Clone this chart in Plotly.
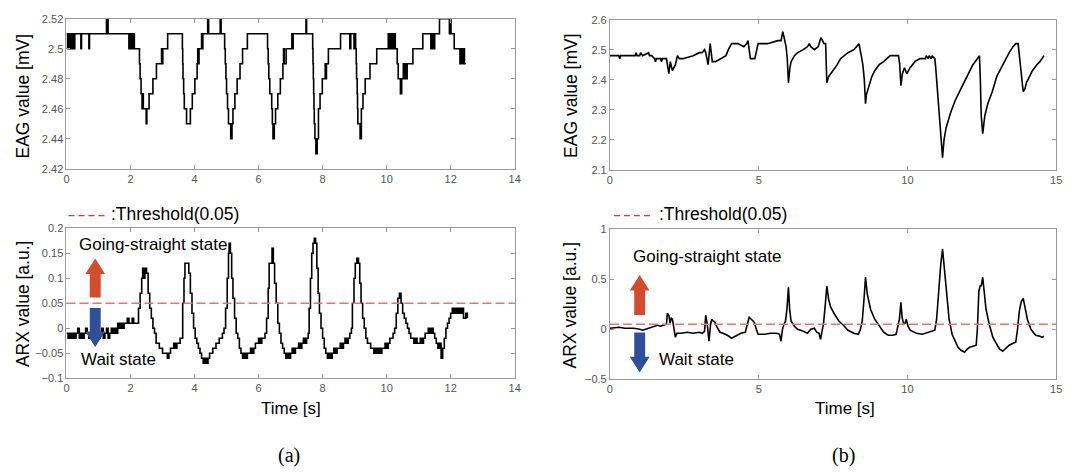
import plotly.graph_objects as go

W, H = 1087, 472

# ---------------- Data ----------------
# (a) EAG value [mV], step signal
eag_a_t = [0.00, 0.03, 0.06, 0.10, 0.13, 0.17, 0.20, 0.24, 0.26, 0.45, 0.47, 0.70, 0.72, 1.25, 1.30,
           1.95, 1.98, 2.00, 2.03, 2.06, 2.09, 2.12, 2.28, 2.30, 2.33, 2.36, 2.38, 2.40, 2.49, 2.51, 2.58,
           2.70, 2.81, 2.97, 2.99, 3.01, 3.16,
           3.62, 3.63, 3.64, 3.66, 3.68, 3.75, 3.87, 3.93, 4.01, 4.08, 4.10, 4.12, 4.14, 4.22, 4.24, 4.26,
           4.28, 4.41, 4.44, 4.80, 4.83,
           4.94, 4.96, 4.98, 5.00, 5.03, 5.06, 5.13, 5.17, 5.20, 5.26, 5.33, 5.42, 5.50, 5.65,
           6.28, 6.30, 6.32, 6.35, 6.41, 6.43, 6.45, 6.49, 6.53, 6.60, 6.68, 6.76, 6.78, 6.80, 6.86, 7.04,
           7.06, 7.08, 7.48, 7.50,
           7.69, 7.70, 7.71, 7.72, 7.73, 7.74, 7.76, 7.79, 7.83, 7.87, 7.92, 7.99, 8.08, 8.10, 8.12, 8.18,
           8.56, 8.85, 8.88, 8.98, 9.00,
           9.03, 9.05, 9.06, 9.08, 9.09, 9.10, 9.17, 9.21, 9.26, 9.33, 9.48, 9.69,
           10.05, 10.08, 10.11, 10.14, 10.17, 10.22, 10.24, 10.27, 10.33, 10.36, 10.43, 10.47, 10.52,
           10.55, 10.58, 10.61, 10.64, 10.82, 11.13, 11.38, 11.40, 11.43, 11.45, 11.48, 11.50,
           11.65, 11.96, 11.99, 12.01, 12.11, 12.29, 12.32, 12.36, 12.39, 12.43, 12.47]
eag_a_v = [2.51, 2.50, 2.51, 2.50, 2.51, 2.50, 2.51, 2.50, 2.51, 2.50, 2.51, 2.50, 2.51, 2.52, 2.51,
           2.50, 2.51, 2.50, 2.51, 2.50, 2.51, 2.50, 2.49, 2.48, 2.47, 2.46, 2.47, 2.46, 2.45, 2.46, 2.47,
           2.48, 2.49, 2.50, 2.49, 2.50, 2.51,
           2.50, 2.49, 2.48, 2.47, 2.46, 2.45, 2.46, 2.47, 2.48, 2.49, 2.50, 2.49, 2.50, 2.51, 2.50, 2.51,
           2.51, 2.52, 2.51, 2.52, 2.51,
           2.50, 2.49, 2.48, 2.47, 2.46, 2.45, 2.44, 2.45, 2.46, 2.47, 2.48, 2.49, 2.50, 2.51,
           2.50, 2.49, 2.48, 2.47, 2.46, 2.45, 2.44, 2.45, 2.46, 2.47, 2.48, 2.49, 2.50, 2.49, 2.50, 2.51,
           2.50, 2.51, 2.52, 2.51,
           2.50, 2.49, 2.48, 2.47, 2.46, 2.45, 2.44, 2.43, 2.44, 2.46, 2.47, 2.48, 2.49, 2.48, 2.49, 2.50,
           2.51, 2.50, 2.51, 2.50, 2.51,
           2.50, 2.49, 2.48, 2.47, 2.46, 2.45, 2.44, 2.46, 2.47, 2.48, 2.49, 2.50,
           2.51, 2.50, 2.51, 2.50, 2.51, 2.50, 2.51, 2.50, 2.49, 2.48, 2.47, 2.48, 2.49,
           2.48, 2.49, 2.48, 2.49, 2.50, 2.51, 2.50, 2.51, 2.50, 2.51, 2.50, 2.51,
           2.52, 2.51, 2.52, 2.51, 2.50, 2.49, 2.50, 2.49, 2.50, 2.49, 2.49]

# (a) ARX value [a.u.]
arx_a_t = [0.00, 0.05, 0.10, 0.15, 0.20, 0.25, 0.30, 0.35, 0.40, 0.45, 0.50, 0.55, 0.60, 0.65, 0.70,
           0.75, 0.80, 0.85, 0.90, 0.95, 1.00, 1.05, 1.10, 1.15, 1.20, 1.25, 1.30, 1.35, 1.40, 1.45,
           1.50, 1.55, 1.60, 1.65, 1.70, 1.75, 1.80, 1.85, 1.90, 1.95, 2.00, 2.05, 2.10, 2.15, 2.20,
           2.25, 2.30, 2.35, 2.38, 2.42, 2.45, 2.50, 2.55, 2.60, 2.65, 2.70, 2.75, 2.80, 2.85, 2.90,
           2.95, 3.00, 3.05, 3.10, 3.15, 3.20, 3.25, 3.30, 3.35, 3.40, 3.45, 3.50, 3.55, 3.60, 3.63,
           3.67, 3.70, 3.78, 3.82, 3.87, 3.92, 3.97, 4.02, 4.07, 4.12, 4.17, 4.22, 4.27, 4.32, 4.37,
           4.42, 4.47, 4.52, 4.57, 4.62, 4.67, 4.72, 4.77, 4.82, 4.87, 4.92, 4.97, 5.02, 5.06, 5.08,
           5.12, 5.16, 5.20, 5.25, 5.30, 5.35, 5.40, 5.45, 5.50, 5.55, 5.60, 5.65, 5.70, 5.75, 5.80,
           5.85, 5.90, 5.95, 6.00, 6.05, 6.10, 6.15, 6.20, 6.25, 6.30, 6.33, 6.38, 6.42, 6.46, 6.50,
           6.55, 6.60, 6.65, 6.70, 6.75, 6.80, 6.85, 6.90, 6.95, 7.00, 7.05, 7.10, 7.15, 7.20, 7.25,
           7.30, 7.35, 7.40, 7.45, 7.50, 7.55, 7.58, 7.62, 7.66, 7.70, 7.74, 7.78, 7.82, 7.86, 7.90,
           7.95, 8.00, 8.05, 8.10, 8.15, 8.20, 8.25, 8.30, 8.35, 8.40, 8.45, 8.50, 8.55, 8.60, 8.65,
           8.70, 8.75, 8.80, 8.85, 8.90, 8.93, 8.98, 9.02, 9.07, 9.12, 9.16, 9.20, 9.25, 9.30, 9.35,
           9.40, 9.45, 9.50, 9.55, 9.60, 9.65, 9.70, 9.75, 9.80, 9.85, 9.90, 9.95, 10.00, 10.05, 10.10,
           10.15, 10.20, 10.25, 10.30, 10.35, 10.40, 10.45, 10.50, 10.55, 10.60, 10.65, 10.70, 10.75,
           10.80, 10.85, 10.90, 10.95, 11.00, 11.05, 11.10, 11.15, 11.20, 11.25, 11.30, 11.35, 11.40,
           11.45, 11.50, 11.55, 11.60, 11.65, 11.70, 11.75, 11.80, 11.85, 11.90, 11.95, 12.00, 12.05,
           12.10, 12.15, 12.20, 12.25, 12.30, 12.35, 12.40, 12.47, 12.52]
arx_a_v = [-0.01, -0.02, -0.01, -0.02, -0.01, -0.02, -0.01, 0.00, -0.02, -0.01, -0.02, -0.01, 0.00, -0.01, -0.02,
           -0.01, 0.00, -0.01, -0.02, -0.01, -0.02, -0.01, 0.00, -0.02, -0.01, 0.00, -0.02, -0.01, 0.00, -0.01,
           0.00, -0.01, 0.01, 0.00, 0.01, 0.00, 0.01, 0.01, 0.02, 0.01, 0.01, 0.02, 0.01, 0.01, 0.01,
           0.04, 0.07, 0.10, 0.12, 0.10, 0.12, 0.11, 0.07, 0.04, 0.02, 0.00, -0.01, -0.03, -0.03, -0.04,
           -0.04, -0.05, -0.05, -0.05, -0.06, -0.05, -0.04, -0.04, -0.03, -0.04, -0.03, -0.03, -0.02, -0.02, 0.05,
           0.10, 0.13, 0.13, 0.11, 0.07, 0.03, 0.00, -0.02, -0.03, -0.04, -0.05, -0.06, -0.07, -0.06, -0.07,
           -0.06, -0.05, -0.05, -0.04, -0.04, -0.03, -0.03, -0.02, -0.02, -0.01, 0.00, 0.04, 0.10, 0.15, 0.17,
           0.15, 0.10, 0.06, 0.02, -0.01, -0.02, -0.04, -0.05, -0.06, -0.05, -0.06, -0.05, -0.05, -0.04, -0.05,
           -0.04, -0.03, -0.03, -0.02, -0.03, -0.02, -0.02, -0.01, 0.02, 0.08, 0.13, 0.13, 0.16, 0.13, 0.09,
           0.05, 0.01, -0.01, -0.03, -0.04, -0.05, -0.06, -0.05, -0.06, -0.05, -0.04, -0.05, -0.04, -0.04, -0.03,
           -0.04, -0.03, -0.02, -0.03, -0.02, -0.01, 0.04, 0.10, 0.15, 0.17, 0.18, 0.17, 0.12, 0.07, 0.03,
           0.00, -0.02, -0.04, -0.05, -0.06, -0.05, -0.06, -0.05, -0.04, -0.05, -0.04, -0.04, -0.03, -0.04, -0.03,
           -0.02, -0.03, -0.02, -0.01, 0.00, 0.05, 0.10, 0.13, 0.14, 0.13, 0.09, 0.05, 0.02, 0.00, -0.02,
           -0.03, -0.03, -0.04, -0.04, -0.05, -0.04, -0.05, -0.04, -0.05, -0.04, -0.04, -0.03, -0.04, -0.03, -0.02,
           -0.02, -0.01, 0.00, 0.03, 0.06, 0.07, 0.05, 0.03, 0.02, 0.01, 0.00, -0.01, -0.02,
           -0.02, -0.03, -0.02, -0.03, -0.03, -0.02, -0.03, -0.02, -0.01, -0.01, 0.00, -0.01, 0.00,
           -0.01, -0.02, -0.03, -0.04, -0.03, -0.06, -0.04, -0.02, 0.00, 0.01, 0.02, 0.03, 0.04, 0.03,
           0.04, 0.03, 0.04, 0.03, 0.04, 0.02, 0.03, 0.02, 0.01]

# (b) EAG value [mV]
eag_b_t = [0.00, 0.30, 0.33, 0.36, 0.40, 0.85, 0.88, 0.91, 1.00, 1.03, 1.10, 1.30, 1.33, 1.40, 1.50,
           1.53, 1.56, 1.70, 1.73, 1.76, 1.90, 1.98, 2.03, 2.10, 2.20, 2.27, 2.33, 2.45, 2.80, 3.00,
           3.10, 3.18, 3.22, 3.30, 3.37, 3.44, 3.55, 3.75, 3.90, 3.98, 4.09, 4.30, 4.50, 4.60, 4.64,
           4.72, 4.87, 4.98, 5.30, 5.64, 5.75, 5.81, 5.87, 5.92, 5.96, 6.00,
           6.05, 6.09, 6.20, 6.31, 6.50, 6.64, 6.70, 6.75, 6.87, 7.00, 7.09, 7.15, 7.20, 7.25, 7.29,
           7.35, 7.42, 7.55, 7.64, 7.75, 7.87, 8.00, 8.20, 8.37, 8.43, 8.50, 8.55, 8.59,
           8.62, 8.70, 8.80, 8.90, 9.05, 9.20, 9.42, 9.70, 9.74, 9.78, 9.83, 9.90, 9.98, 10.09, 10.25,
           10.42, 10.60, 10.63, 10.70, 10.73, 10.80, 10.83, 10.92, 10.95, 11.05, 11.18,
           11.23, 11.30, 11.45, 11.60, 11.80, 12.00, 12.20, 12.35, 12.42, 12.45, 12.48, 12.53,
           12.60, 12.70, 12.85, 13.00, 13.20, 13.42, 13.55, 13.64, 13.72, 13.77, 13.83, 13.89,
           13.95, 14.00, 14.10, 14.20, 14.35, 14.45, 14.59]
eag_b_v = [2.48, 2.48, 2.47, 2.48, 2.48, 2.48, 2.49, 2.48, 2.48, 2.49, 2.48, 2.49, 2.48, 2.48, 2.47,
           2.46, 2.47, 2.47, 2.46, 2.47, 2.47, 2.42, 2.46, 2.43, 2.45, 2.48, 2.47, 2.47, 2.48, 2.49,
           2.49, 2.50, 2.49, 2.45, 2.52, 2.46, 2.46, 2.47, 2.48, 2.50, 2.52, 2.52, 2.51, 2.52, 2.53,
           2.47, 2.47, 2.52, 2.52, 2.53, 2.53, 2.56, 2.53, 2.51, 2.47, 2.39,
           2.44, 2.46, 2.48, 2.49, 2.50, 2.51, 2.52, 2.51, 2.50, 2.51, 2.54, 2.53, 2.52, 2.52, 2.39,
           2.41, 2.42, 2.44, 2.45, 2.47, 2.48, 2.49, 2.50, 2.52, 2.49, 2.45, 2.40, 2.32,
           2.35, 2.38, 2.41, 2.43, 2.45, 2.46, 2.48, 2.48, 2.45, 2.38, 2.42, 2.44, 2.42, 2.44, 2.46,
           2.47, 2.47, 2.48, 2.47, 2.48, 2.47, 2.48, 2.47, 2.44, 2.30, 2.14,
           2.20, 2.24, 2.29, 2.33, 2.37, 2.41, 2.45, 2.47, 2.48, 2.40, 2.28, 2.22,
           2.28, 2.32, 2.36, 2.41, 2.45, 2.49, 2.51, 2.52, 2.52, 2.47, 2.40, 2.36,
           2.37, 2.39, 2.41, 2.43, 2.45, 2.46, 2.48]

# (b) ARX value [a.u.]
arx_b_t = [0.00, 0.30, 0.50, 0.80, 1.00, 1.10, 1.20, 1.40, 1.50, 1.60, 1.70, 1.80, 1.90, 1.93, 1.98,
           2.02, 2.06, 2.10, 2.15, 2.20, 2.25, 2.40, 2.60, 2.80, 3.00, 3.10, 3.18, 3.22, 3.27, 3.33,
           3.38, 3.42, 3.48, 3.53, 3.60, 3.70, 3.80, 3.95, 4.09, 4.20, 4.40, 4.55, 4.62, 4.68, 4.75,
           4.85, 4.92, 4.98, 5.20, 5.40, 5.60, 5.70, 5.75, 5.80, 5.85, 5.90, 5.95, 6.00, 6.04, 6.09,
           6.20, 6.31, 6.50, 6.64, 6.75, 6.87, 6.95, 7.03, 7.08, 7.13, 7.18, 7.24, 7.29, 7.35, 7.42,
           7.55, 7.70, 7.85, 8.00, 8.20, 8.35, 8.42, 8.48, 8.54, 8.59, 8.65, 8.76, 8.90, 9.05, 9.20,
           9.35, 9.50, 9.62, 9.68, 9.73, 9.78, 9.82, 9.87, 9.92, 9.96, 10.02, 10.09, 10.30, 10.50,
           10.70, 10.92, 10.98, 11.05, 11.12, 11.18, 11.23, 11.31, 11.40, 11.50, 11.60, 11.70, 11.80,
           11.92, 12.00, 12.09, 12.20, 12.31, 12.35, 12.40, 12.45, 12.48, 12.53, 12.58, 12.64, 12.75,
           12.87, 13.00, 13.10, 13.20, 13.30, 13.42, 13.55, 13.64, 13.70, 13.76, 13.82, 13.89, 13.95,
           14.03, 14.15, 14.31, 14.45, 14.53, 14.59]
arx_b_v = [0.01, 0.02, 0.01, 0.01, 0.00, -0.01, 0.00, 0.02, 0.03, 0.04, 0.03, 0.04, 0.05, 0.16, 0.14,
           0.06, 0.11, 0.10, 0.00, -0.08, -0.04, -0.04, -0.03, -0.04, -0.03, -0.04, -0.02, 0.14, 0.05, -0.12,
           0.04, 0.10, 0.08, 0.07, 0.02, -0.03, -0.04, -0.06, -0.09, -0.07, -0.04, -0.03, 0.05, 0.12, 0.10,
           0.07, 0.00, -0.05, -0.05, -0.04, -0.04, -0.05, -0.12, 0.00, 0.05, 0.08, 0.20, 0.42, 0.20, 0.08,
           0.03, 0.00, -0.02, -0.04, 0.00, 0.01, -0.03, -0.04, -0.10, 0.00, 0.06, 0.25, 0.43, 0.30, 0.22,
           0.15, 0.08, 0.04, -0.01, -0.04, -0.05, 0.00, 0.08, 0.30, 0.52, 0.35, 0.20, 0.10, 0.03, -0.03,
           -0.06, -0.06, -0.05, 0.02, 0.10, 0.27, 0.12, 0.05, 0.06, 0.10, 0.03, -0.01, -0.04, -0.05,
           -0.03, -0.01, 0.10, 0.40, 0.65, 0.80, 0.65, 0.35, 0.10, -0.05, -0.12, -0.18, -0.21,
           -0.23, -0.20, -0.18, -0.17, -0.16, 0.00, 0.38, 0.44, 0.43, 0.52, 0.35, 0.20, 0.05,
           -0.08, -0.15, -0.20, -0.22, -0.19, -0.16, -0.14, -0.13, 0.00, 0.18, 0.27, 0.31, 0.22,
           0.10, 0.00, -0.06, -0.07, -0.08, -0.07]

threshold = 0.05

# ---------------- Layout helpers ----------------
def px(x):
    return x / W

def py(y):
    return 1 - y / H

fig = go.Figure()

fig.add_trace(go.Scatter(x=eag_a_t, y=eag_a_v, mode="lines", line=dict(color="black", width=1.6, shape="hv"),
                         xaxis="x", yaxis="y", showlegend=False))
fig.add_trace(go.Scatter(x=arx_a_t, y=arx_a_v, mode="lines", line=dict(color="black", width=1.6, shape="hv"),
                         xaxis="x2", yaxis="y2", showlegend=False))
fig.add_trace(go.Scatter(x=[0, 14], y=[threshold, threshold], mode="lines",
                         line=dict(color="#f07070", width=1.3, dash="9px,4px"),
                         xaxis="x2", yaxis="y2", showlegend=False))
fig.add_trace(go.Scatter(x=eag_b_t, y=eag_b_v, mode="lines", line=dict(color="black", width=1.6),
                         xaxis="x3", yaxis="y3", showlegend=False))
fig.add_trace(go.Scatter(x=arx_b_t, y=arx_b_v, mode="lines", line=dict(color="black", width=1.6),
                         xaxis="x4", yaxis="y4", showlegend=False))
fig.add_trace(go.Scatter(x=[0, 15], y=[threshold, threshold], mode="lines",
                         line=dict(color="#f07070", width=1.3, dash="9px,4px"),
                         xaxis="x4", yaxis="y4", showlegend=False))

axcommon = dict(showline=True, mirror="ticks", linecolor="#9a9a9a", linewidth=1, ticks="inside",
                ticklen=4, tickcolor="#9a9a9a", showgrid=False, zeroline=False,
                tickfont=dict(family="Liberation Sans, Arial", size=11, color="#555555"))

dom_left = [px(64), px(516)]
dom_right = [px(612), px(1062)]

fig.update_layout(
    width=W, height=H, margin=dict(l=0, r=0, t=0, b=0),
    paper_bgcolor="white", plot_bgcolor="white",
    xaxis=dict(domain=dom_left, range=[0, 14], dtick=2, anchor="y", **axcommon),
    yaxis=dict(domain=[py(167), py(13)], range=[2.42, 2.52], dtick=0.02, anchor="x", **axcommon),
    xaxis2=dict(domain=dom_left, range=[0, 14], dtick=2, anchor="y2", **axcommon),
    yaxis2=dict(domain=[py(382), py(228)], range=[-0.1, 0.2], dtick=0.05, anchor="x2", **axcommon),
    xaxis3=dict(domain=dom_right, range=[0, 15], dtick=5, anchor="y3", **axcommon),
    yaxis3=dict(domain=[py(168), py(14)], range=[2.1, 2.6], dtick=0.1, anchor="x3", **axcommon),
    xaxis4=dict(domain=dom_right, range=[0, 15], dtick=5, anchor="y4", **axcommon),
    yaxis4=dict(domain=[py(383), py(229)], range=[-0.5, 1.0], dtick=0.5, anchor="x4", **axcommon),
)

sans = "Liberation Sans, Arial"
ann = []
def text(x, y, s, size=17, angle=0, family=sans, xanchor="center"):
    ann.append(dict(x=px(x), y=py(y), xref="paper", yref="paper", text=s, showarrow=False,
                    textangle=angle, xanchor=xanchor, yanchor="middle",
                    font=dict(family=family, size=size, color="black")))

text(20, 92, "EAG value [mV]", size=17.5, angle=-90)
text(20, 306, "ARX value [a.u.]", size=17.5, angle=-90)
text(572, 92, "EAG value [mV]", size=17.5, angle=-90)
text(572, 307, "ARX value [a.u.]", size=17.5, angle=-90)
text(290, 413, "Time [s]", size=17)
text(849, 413, "Time [s]", size=17)
text(288, 461, "(a)", size=20, family="Liberation Serif, Times New Roman")
text(848, 461, "(b)", size=20, family="Liberation Serif, Times New Roman")
text(75, 245, "Going-straight state", size=17, xanchor="left")
text(633, 257, "Going-straight state", size=17, xanchor="left")
text(77, 363, "Wait state", size=17, xanchor="left")
text(659, 363, "Wait state", size=17, xanchor="left")
text(107, 213, ":Threshold(0.05)", size=17.5, xanchor="left")
text(659, 213, ":Threshold(0.05)", size=17.5, xanchor="left")
fig.update_layout(annotations=ann)

shapes = []
# legend dashes
for x0, x1, yy in [(66, 103, 215), (616, 655, 215)]:
    shapes.append(dict(type="line", xref="paper", yref="paper", x0=px(x0), x1=px(x1), y0=py(yy), y1=py(yy),
                       line=dict(color="#f03030", width=1.3, dash="6px,4px")))

def path(pts, color):
    d = "M " + " L ".join(f"{px(a):.5f},{py(b):.5f}" for a, b in pts) + " Z"
    return dict(type="path", xref="paper", yref="paper", path=d, fillcolor=color,
                line=dict(color=color, width=0))

def up_arrow(cx, top, bottom, color):
    hw, sw, hh = 10, 5.5, 16
    pts = [(cx, top), (cx + hw, top + hh), (cx + sw, top + hh), (cx + sw, bottom),
           (cx - sw, bottom), (cx - sw, top + hh), (cx - hw, top + hh)]
    return path(pts, color)

def down_arrow(cx, top, bottom, color):
    hw, sw, hh = 10, 5.5, 16
    pts = [(cx - sw, top), (cx + sw, top), (cx + sw, bottom - hh), (cx + hw, bottom - hh),
           (cx, bottom), (cx - hw, bottom - hh), (cx - sw, bottom - hh)]
    return path(pts, color)

red, blue = "#d64a2e", "#2f4f9c"
shapes.append(up_arrow(93, 259, 299, red))
shapes.append(down_arrow(93, 310, 350, blue))
shapes.append(up_arrow(642, 276, 317, red))
shapes.append(down_arrow(642, 335, 376, blue))
fig.update_layout(shapes=shapes)

fig.write_html("out.html")
